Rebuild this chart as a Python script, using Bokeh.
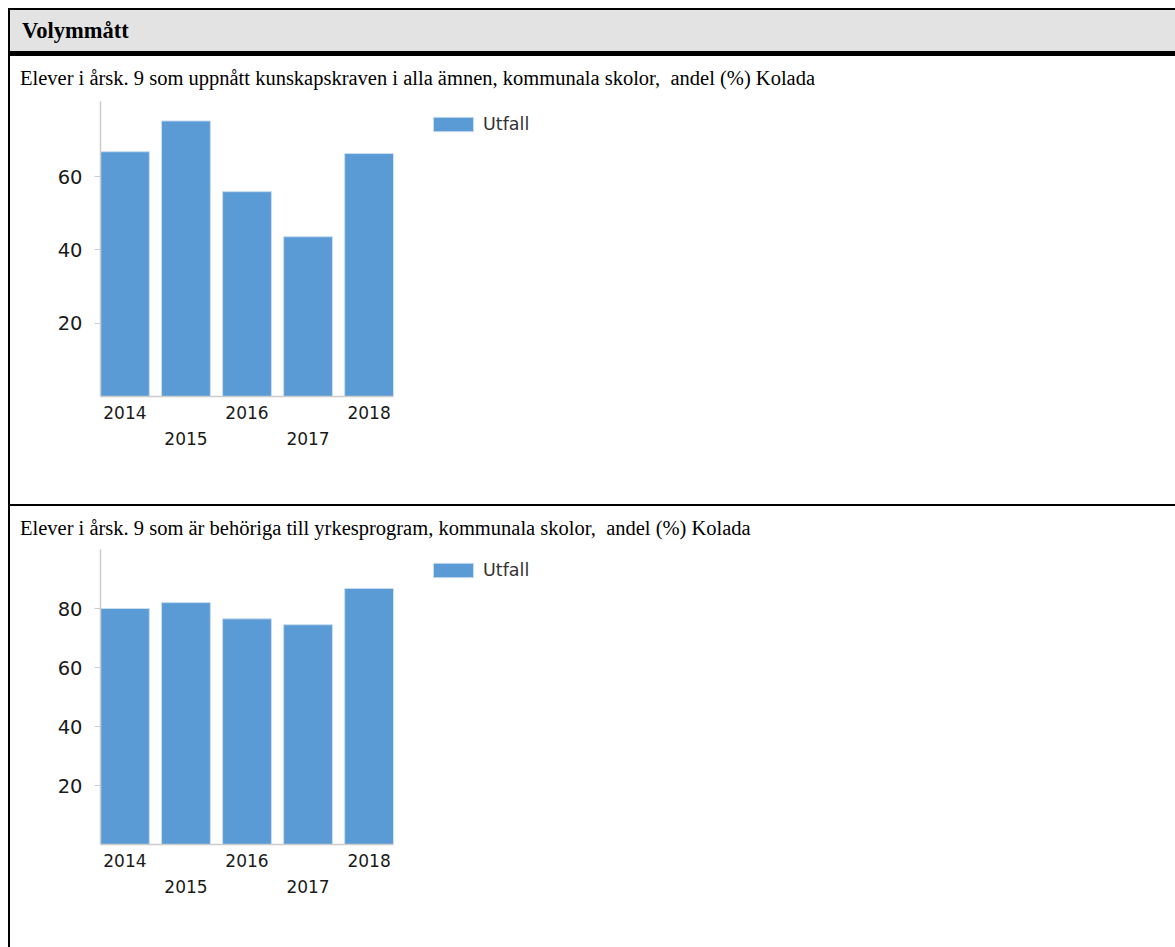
from bokeh.plotting import figure
from bokeh.layouts import column, row
from bokeh.models import (Range1d, LinearAxis, FixedTicker, Legend, LegendItem,
                          ColumnDataSource, Spacer, Div)
from bokeh.embed import file_html
from bokeh.resources import INLINE

# ---------------- data ----------------
section_title = "Volymmått"
subtitle_1 = "Elever i årsk. 9 som uppnått kunskapskraven i alla ämnen, kommunala skolor,  andel (%) Kolada"
subtitle_2 = "Elever i årsk. 9 som är behöriga till yrkesprogram, kommunala skolor,  andel (%) Kolada"
series_name = "Utfall"
years = [2014, 2015, 2016, 2017, 2018]
values_1 = [66.8, 75.2, 55.9, 43.6, 66.3]
values_2 = [80.0, 82.0, 76.5, 74.5, 86.8]
yticks_1 = [20, 40, 60]
yticks_2 = [20, 40, 60, 80]
xticks_row1 = [2014, 2016, 2018]
xticks_row2 = [2015, 2017]

BAR = "#5B9BD5"
AXIS = "#cccccc"
SANS = "DejaVu Sans"
SERIF = "'Liberation Serif', 'Times New Roman', serif"
CONTENT_W = 1165


def bar_div(w, h, color="black"):
    return Div(text="", width=w, height=h, margin=0,
               styles={"background-color": color})


def text_div(h, txt, pad_left, size, bold=False, bg="white", line_h=None):
    lh = line_h if line_h is not None else h
    weight = "bold" if bold else "normal"
    html = (f'<div style="font-family:{SERIF}; font-size:{size}; font-weight:{weight}; '
            f'line-height:{lh}px; padding-left:{pad_left}px; white-space:pre; '
            f'color:#000000; margin:0;">{txt}</div>')
    return Div(text=html, width=CONTENT_W, height=h, margin=0,
               styles={"background-color": bg, "overflow": "hidden"})


def chart(h, vals, ymax, yticks, bottom, legend_y):
    p = figure(width=CONTENT_W, height=h, toolbar_location=None, output_backend="svg",
               x_axis_type=None, y_axis_type=None,
               x_range=Range1d(2013.6, 2018.4), y_range=Range1d(0, ymax),
               min_border_left=90, min_border_right=782, min_border_top=0,
               min_border_bottom=bottom)
    p.outline_line_color = None
    p.grid.visible = False
    src = ColumnDataSource(dict(x=years, top=vals))
    r = p.vbar(x="x", top="top", width=0.8, source=src, fill_color=BAR,
               line_color="#c9dcf0", line_width=1)

    yax = LinearAxis(ticker=FixedTicker(ticks=yticks))
    yax.axis_line_color = AXIS
    yax.axis_line_width = 1.5
    yax.major_tick_line_color = AXIS
    yax.major_tick_out = 6
    yax.major_tick_in = 0
    yax.minor_tick_line_color = None
    yax.major_label_standoff = 12
    yax.major_label_text_font = SANS
    yax.major_label_text_font_size = "19.5px"
    yax.major_label_text_color = "#1a1a1a"
    p.add_layout(yax, "left")

    xa = LinearAxis(ticker=FixedTicker(ticks=xticks_row1))
    xa.axis_line_color = AXIS
    xa.axis_line_width = 1.5
    xa.major_tick_line_color = None
    xa.minor_tick_line_color = None
    xa.major_label_standoff = 3
    xa.major_label_text_font = SANS
    xa.major_label_text_font_size = "17px"
    xa.major_label_text_color = "#1a1a1a"
    p.add_layout(xa, "below")

    xb = LinearAxis(ticker=FixedTicker(ticks=xticks_row2))
    xb.axis_line_color = None
    xb.major_tick_line_color = None
    xb.minor_tick_line_color = None
    xb.major_label_standoff = 4
    xb.major_label_text_font = SANS
    xb.major_label_text_font_size = "17px"
    xb.major_label_text_color = "#1a1a1a"
    p.add_layout(xb, "below")

    leg = Legend(items=[LegendItem(label=series_name, renderers=[r])],
                 location=(35, legend_y), orientation="vertical")
    leg.border_line_color = None
    leg.background_fill_alpha = 0
    leg.padding = 0
    leg.margin = 0
    leg.glyph_width = 50
    leg.glyph_height = 18
    leg.label_standoff = 5
    leg.label_text_font = SANS
    leg.label_text_font_size = "17.5px"
    leg.label_text_color = "#333333"
    p.add_layout(leg, "right")
    return p


header = text_div(41, section_title, 12, "22.5px", bold=True, bg="#e3e3e3")
sub1 = text_div(45, subtitle_1, 10, "20.5px")
ch1 = chart(403, values_1, 80.5, yticks_1, 108, 262)
sub2 = text_div(43, subtitle_2, 10, "20.5px", line_h=45)
ch2 = chart(398, values_2, 100, yticks_2, 103, 264)

content = column(
    bar_div(CONTENT_W, 2),
    header,
    bar_div(CONTENT_W, 5),
    sub1,
    ch1,
    bar_div(CONTENT_W, 2),
    sub2,
    ch2,
    spacing=0,
)

page = column(
    Spacer(width=1175, height=8),
    row(Spacer(width=8, height=939), bar_div(2, 939), content, spacing=0),
    spacing=0,
)

open("out.html", "w").write(file_html(page, INLINE))
